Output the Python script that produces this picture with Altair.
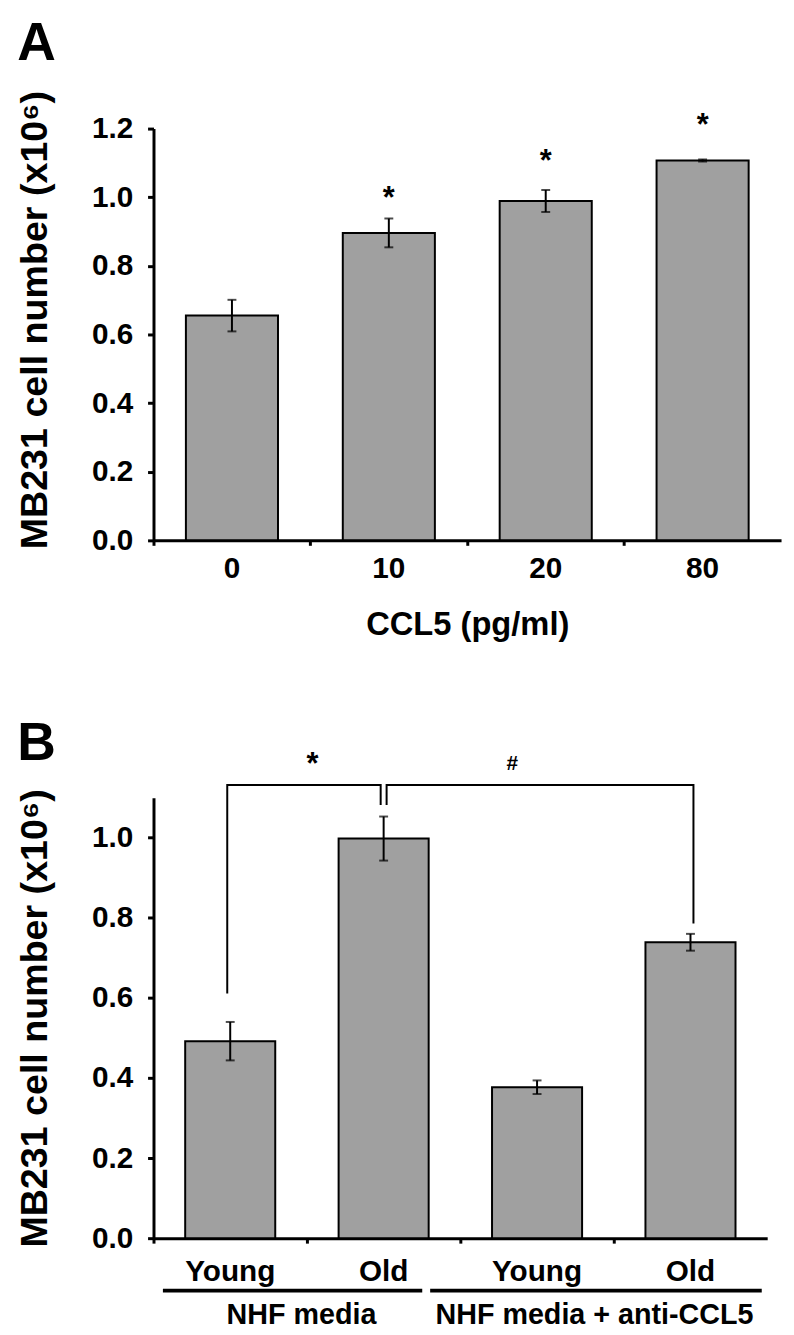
import altair as alt
import pandas as pd

FONT = "Liberation Sans"
GRAY = "#a0a0a0"

# ---------------- Panel A data ----------------
a_dose = ["0", "10", "20", "80"]
a_mean = [0.655, 0.896, 0.989, 1.107]
a_err = [0.046, 0.042, 0.032, 0.003]
a_sig = ["", "*", "*", "*"]
a_sig_y = [0.0, 1.009, 1.116, 1.222]

# ---------------- Panel B data ----------------
b_group = ["NHF media", "NHF media", "NHF media + anti-CCL5", "NHF media + anti-CCL5"]
b_age = ["Young", "Old", "Young", "Old"]
b_mean = [0.492, 0.998, 0.377, 0.739]
b_err = [0.048, 0.055, 0.017, 0.021]
b_groups = ["NHF media", "NHF media + anti-CCL5"]

# significance brackets (data units)
br_top = 1.132
br_left_legs = [0.611, 1.082]   # Young(NHF), Old(NHF)
br_right_legs = [1.082, 0.786]  # Old(NHF), Old(anti)
b_marks = ["*", "#"]
b_marks_y = [1.195, 1.183]

YTITLE = "MB231 cell number (x10\u2076)"


def y_axis(vals, title_y=None):
    kw = dict(
        values=vals, format=".1f", grid=False, orient="left",
        domainColor="black", domainWidth=3, tickColor="black", tickWidth=3, tickSize=6,
        labelFont=FONT, labelFontSize=30, labelFontWeight="bold", labelColor="black", labelPadding=15,
        title=YTITLE, titleFont=FONT, titleFontSize=38, titleFontWeight="bold", titleColor="black",
        titlePadding=37,
    )
    if title_y is not None:
        kw["titleY"] = title_y
    return alt.Axis(**kw)


def base_panel(df, cats, ymax, yvals, xtitle, label_expr=None, title_y=None, label_pad=14):
    xscale = alt.Scale(domain=cats, paddingInner=0, paddingOuter=0)
    ya = y_axis(yvals, title_y)
    yscale = alt.Scale(domain=[0, ymax], nice=False)

    label_axis_kw = dict(
        orient="bottom", domain=False, ticks=False, labelAngle=0, grid=False,
        labelFont=FONT, labelFontSize=30, labelFontWeight="bold", labelColor="black",
        labelPadding=label_pad,
    )
    if label_expr:
        label_axis_kw["labelExpr"] = label_expr
    if xtitle:
        label_axis_kw.update(title=xtitle, titleFont=FONT, titleFontSize=33, titleFontWeight="bold",
                             titleColor="black", titlePadding=25)
    else:
        label_axis_kw.update(title=None)
    label_axis = alt.Axis(**label_axis_kw)
    tick_axis = alt.Axis(orient="bottom", domain=True, domainColor="black", domainWidth=3, ticks=True,
                         tickColor="black", tickWidth=3, tickSize=5, bandPosition=0, labels=False,
                         title=None, grid=False)

    bars = alt.Chart(df).mark_bar(width=alt.RelativeBandSize(0.587), color=GRAY, stroke="black",
                                  strokeWidth=2).encode(
        x=alt.X("cat:N", scale=xscale, sort=cats, axis=label_axis),
        y=alt.Y("mean:Q", scale=yscale, axis=ya, title=YTITLE),
    )
    err = alt.Chart(df).mark_rule(color="black", strokeWidth=2).encode(
        x=alt.X("cat:N", scale=xscale, sort=cats, axis=tick_axis),
        y=alt.Y("lo:Q", scale=yscale, axis=ya, title=YTITLE),
        y2="hi:Q",
    )
    cap_lo = alt.Chart(df).mark_tick(color="black", thickness=2, size=9, orient="horizontal").encode(
        x=alt.X("cat:N", scale=xscale, sort=cats, axis=None),
        y=alt.Y("lo:Q", scale=yscale, axis=ya, title=YTITLE),
    )
    cap_hi = alt.Chart(df).mark_tick(color="black", thickness=2, size=9, orient="horizontal").encode(
        x=alt.X("cat:N", scale=xscale, sort=cats, axis=None),
        y=alt.Y("hi:Q", scale=yscale, axis=ya, title=YTITLE),
    )
    return [bars, err, cap_lo, cap_hi], xscale, yscale, ya


# ---------------- Panel A ----------------
dfa = pd.DataFrame({"cat": a_dose, "mean": a_mean, "err": a_err, "sig": a_sig, "sig_y": a_sig_y})
dfa["lo"] = dfa["mean"] - dfa["err"]
dfa["hi"] = dfa["mean"] + dfa["err"]

WA, HA = 634, 416
layers_a, xs_a, ys_a, ya_a = base_panel(dfa, a_dose, 1.2, [0, 0.2, 0.4, 0.6, 0.8, 1.0, 1.2],
                                        "CCL5 (pg/ml)", title_y=HA / 2 - 15)
stars_a = alt.Chart(dfa[dfa["sig"] != ""]).mark_text(
    font=FONT, fontSize=31, fontWeight="bold", color="black", baseline="middle", dy=5
).encode(
    x=alt.X("cat:N", scale=xs_a, sort=a_dose, axis=None),
    y=alt.Y("sig_y:Q", scale=ys_a, axis=ya_a, title=YTITLE),
    text="sig:N",
)
panel_a = alt.layer(*layers_a, stars_a).resolve_axis(x="independent").properties(
    width=WA, height=HA,
    title=alt.TitleParams("A", anchor="start", frame="bounds", font=FONT, fontSize=54,
                          fontWeight="bold", color="black", offset=20),
)

# ---------------- Panel B ----------------
b_cats = [g + "|" + a for g, a in zip(b_group, b_age)]
dfb = pd.DataFrame({"cat": b_cats, "mean": b_mean, "err": b_err})
dfb["lo"] = dfb["mean"] - dfb["err"]
dfb["hi"] = dfb["mean"] + dfb["err"]

WB, HB = 620, 445
layers_b, xs_b, ys_b, ya_b = base_panel(dfb, b_cats, 1.1, [0, 0.2, 0.4, 0.6, 0.8, 1.0],
                                        None, label_expr="split(datum.label, '|')[1]", label_pad=19)


def xb(axis=None):
    return alt.X("cat:N", scale=xs_b, sort=b_cats, axis=axis)


def yb(field):
    return alt.Y(field, scale=ys_b, axis=ya_b, title=YTITLE)


left_br = pd.DataFrame({"cat": [b_cats[0], b_cats[0], b_cats[1], b_cats[1]],
                        "y": [br_left_legs[0], br_top, br_top, br_left_legs[1]],
                        "o": [0, 1, 2, 3]})
right_br = pd.DataFrame({"cat": [b_cats[1], b_cats[1], b_cats[3], b_cats[3]],
                         "y": [br_right_legs[0], br_top, br_top, br_right_legs[1]],
                         "o": [0, 1, 2, 3]})
line_l = alt.Chart(left_br).mark_line(color="black", strokeWidth=2, xOffset=-3).encode(
    x=xb(), y=yb("y:Q"), order="o:Q")
line_r = alt.Chart(right_br).mark_line(color="black", strokeWidth=2, xOffset=3).encode(
    x=xb(), y=yb("y:Q"), order="o:Q")

sig_b = pd.DataFrame({"cat": [b_cats[0], b_cats[2]], "t": b_marks, "y": b_marks_y})
star_b = alt.Chart(sig_b.iloc[[0]]).mark_text(
    font=FONT, fontSize=31, fontWeight="bold", color="black", baseline="middle", dy=5, dx=83
).encode(x=xb(), y=yb("y:Q"), text="t:N")
hash_b = alt.Chart(sig_b.iloc[[1]]).mark_text(
    font=FONT, fontSize=21, fontWeight="bold", color="black", baseline="middle", dx=-25
).encode(x=xb(), y=yb("y:Q"), text="t:N")

grp = pd.DataFrame({"g": b_groups, "start": [b_cats[0], b_cats[2]], "end": [b_cats[1], b_cats[3]]})
g1_line = alt.Chart(grp.iloc[[0]]).mark_rule(color="black", strokeWidth=4, xOffset=-68, x2Offset=39).encode(
    x=alt.X("start:N", scale=xs_b, sort=b_cats, axis=None), x2="end:N", y=alt.value(HB + 53))
g2_line = alt.Chart(grp.iloc[[1]]).mark_rule(color="black", strokeWidth=4, xOffset=-108, x2Offset=72).encode(
    x=alt.X("start:N", scale=xs_b, sort=b_cats, axis=None), x2="end:N", y=alt.value(HB + 53))
g1_txt = alt.Chart(grp.iloc[[0]]).mark_text(font=FONT, fontSize=29, fontWeight="bold", color="black",
                                             baseline="alphabetic", dx=72).encode(
    x=alt.X("start:N", scale=xs_b, sort=b_cats, axis=None), y=alt.value(HB + 87), text="g:N")
g2_txt = alt.Chart(grp.iloc[[1]]).mark_text(font=FONT, fontSize=29, fontWeight="bold", color="black",
                                             baseline="alphabetic", dx=58).encode(
    x=alt.X("start:N", scale=xs_b, sort=b_cats, axis=None), y=alt.value(HB + 87), text="g:N")

panel_b = alt.layer(*layers_b, line_l, line_r, star_b, hash_b, g1_line, g2_line, g1_txt, g2_txt
                    ).resolve_axis(x="independent").properties(
    width=WB, height=HB,
    title=alt.TitleParams("B", anchor="start", frame="bounds", font=FONT, fontSize=54,
                          fontWeight="bold", color="black", offset=-22),
)

chart = alt.vconcat(panel_a, panel_b, spacing=76).properties(
    padding={"left": 9, "top": 2, "right": 5, "bottom": 0}
).configure_view(stroke=None)

chart.save("out.html", embed_options={"renderer": "svg", "actions": False})
